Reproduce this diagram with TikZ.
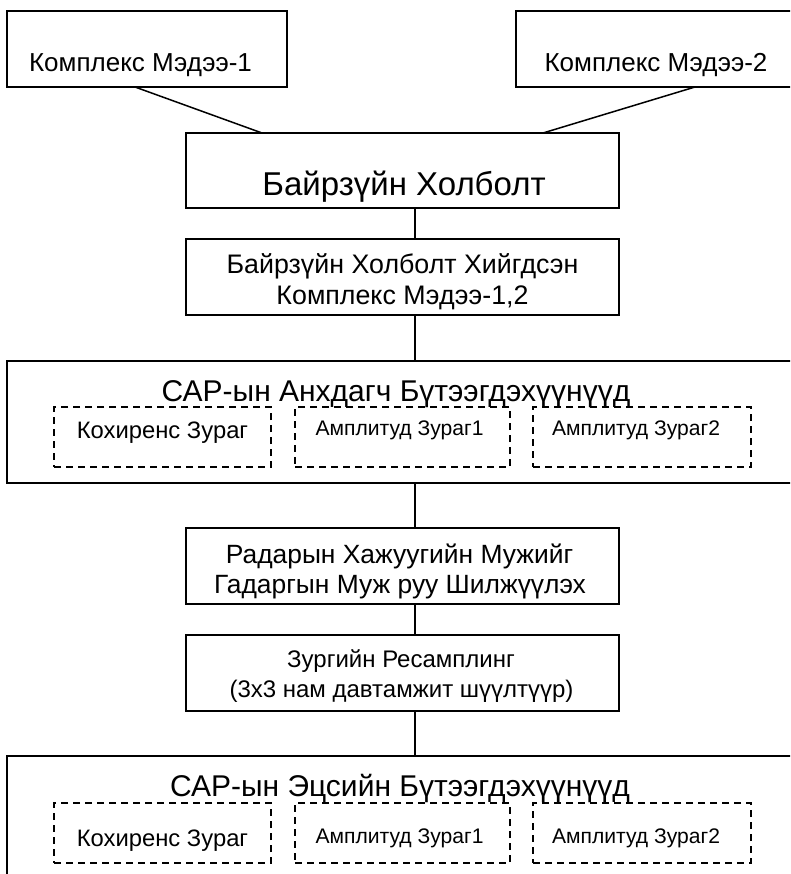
\documentclass[tikz,border=0pt]{standalone}
\usepackage{fontspec}
\setmainfont{Liberation Sans}
\newcommand{\fsz}[1]{\fontsize{#1}{#1}\selectfont}
\begin{document}
\begin{tikzpicture}[x=1pt,y=-1pt,
  box/.style={draw, line width=1.5pt, inner sep=0pt, outer sep=0pt},
  dbox/.style={draw, line width=1.2pt, dash pattern=on 7pt off 5pt, inner sep=0pt, outer sep=0pt},
  lbl/.style={inner sep=0pt, anchor=base},
  link/.style={line width=1.5pt}]
\useasboundingbox (0,0) rectangle (790,874);
\clip (0,0) rectangle (790,874);
\coordinate (spine) at (415,0);
% top boxes
\node[box, minimum width=280pt, minimum height=76pt] (m1) at (147,49) {};
\node[lbl, font=\fsz{26}] (m1t) at (140.5,72) {Комплекс Мэдээ-1};
\node[box, minimum width=284pt, minimum height=76pt] (m2) at (658,49) {};
\node[lbl, font=\fsz{26}] (m2t) at (656,72) {Комплекс Мэдээ-2};
% coregistration
\node[box, minimum width=433pt, minimum height=75pt] (bh) at (402.5,170.5) {};
\node[lbl, font=\fsz{33}] (bht) at (404,196) {Байрзүйн Холболт};
\node[box, minimum width=433pt, minimum height=76pt] (bh2) at (402.5,277) {};
\node[lbl, font=\fsz{26.8}] (bh2a) at (402.5,273) {Байрзүйн Холболт Хийгдсэн};
\node[lbl, font=\fsz{26.8}] (bh2b) at (402.5,304) {Комплекс Мэдээ-1,2};
% SAR primary products
\node[box, minimum width=793pt, minimum height=122pt] (s1) at (403.5,422) {};
\node[lbl, font=\fsz{30}] (s1t) at (396,401) {САР-ын Анхдагч Бүтээгдэхүүнүүд};
\node[dbox, minimum width=217pt, minimum height=60pt] (s1a) at (162.5,437) {};
\node[dbox, minimum width=215pt, minimum height=60pt] (s1b) at (402.5,437) {};
\node[dbox, minimum width=218pt, minimum height=60pt] (s1c) at (642,437) {};
\node[lbl, font=\fsz{23.8}] (s1at) at (162.5,438) {Кохиренс Зураг};
\node[lbl, font=\fsz{21.1}] (s1bt) at (399.5,435) {Амплитуд Зураг1};
\node[lbl, font=\fsz{21.1}] (s1ct) at (636,435) {Амплитуд Зураг2};
% radar to ground
\node[box, minimum width=433pt, minimum height=76pt] (rd) at (402.5,566) {};
\node[lbl, font=\fsz{26.4}] (rda) at (399.5,563) {Радарын Хажуугийн Мужийг};
\node[lbl, font=\fsz{26.4}] (rdb) at (400,593) {Гадаргын Муж руу Шилжүүлэх};
% resampling
\node[box, minimum width=433pt, minimum height=76pt] (rs) at (402.5,673) {};
\node[lbl, font=\fsz{24}] (rsa) at (401,667) {Зургийн Ресамплинг};
\node[lbl, font=\fsz{24}] (rsb) at (401.5,697) {(3x3 нам давтамжит шүүлтүүр)};
% SAR final products
\node[box, minimum width=793pt, minimum height=144pt] (s2) at (403.5,828) {};
\node[lbl, font=\fsz{30}] (s2t) at (400,796) {САР-ын Эцсийн Бүтээгдэхүүнүүд};
\node[dbox, minimum width=217pt, minimum height=60pt] (s2a) at (162.5,833) {};
\node[dbox, minimum width=215pt, minimum height=60pt] (s2b) at (402.5,833) {};
\node[dbox, minimum width=218pt, minimum height=60pt] (s2c) at (642,833) {};
\node[lbl, font=\fsz{23.8}] (s2at) at (162.5,846) {Кохиренс Зураг};
\node[lbl, font=\fsz{21.1}] (s2bt) at (399.5,843) {Амплитуд Зураг1};
\node[lbl, font=\fsz{21.1}] (s2ct) at (636,843) {Амплитуд Зураг2};
% connectors
\draw[link] ([xshift=-12pt]m1.south) -- ([xshift=-140.5pt]bh.north);
\draw[link] ([xshift=37pt]m2.south) -- ([xshift=140.5pt]bh.north);
\draw[link] (bh.south -| spine) -- (bh2.north -| spine);
\draw[link] (bh2.south -| spine) -- (s1.north -| spine);
\draw[link] (s1.south -| spine) -- (rd.north -| spine);
\draw[link] (rd.south -| spine) -- (rs.north -| spine);
\draw[link] (rs.south -| spine) -- (s2.north -| spine);
\end{tikzpicture}
\end{document}
